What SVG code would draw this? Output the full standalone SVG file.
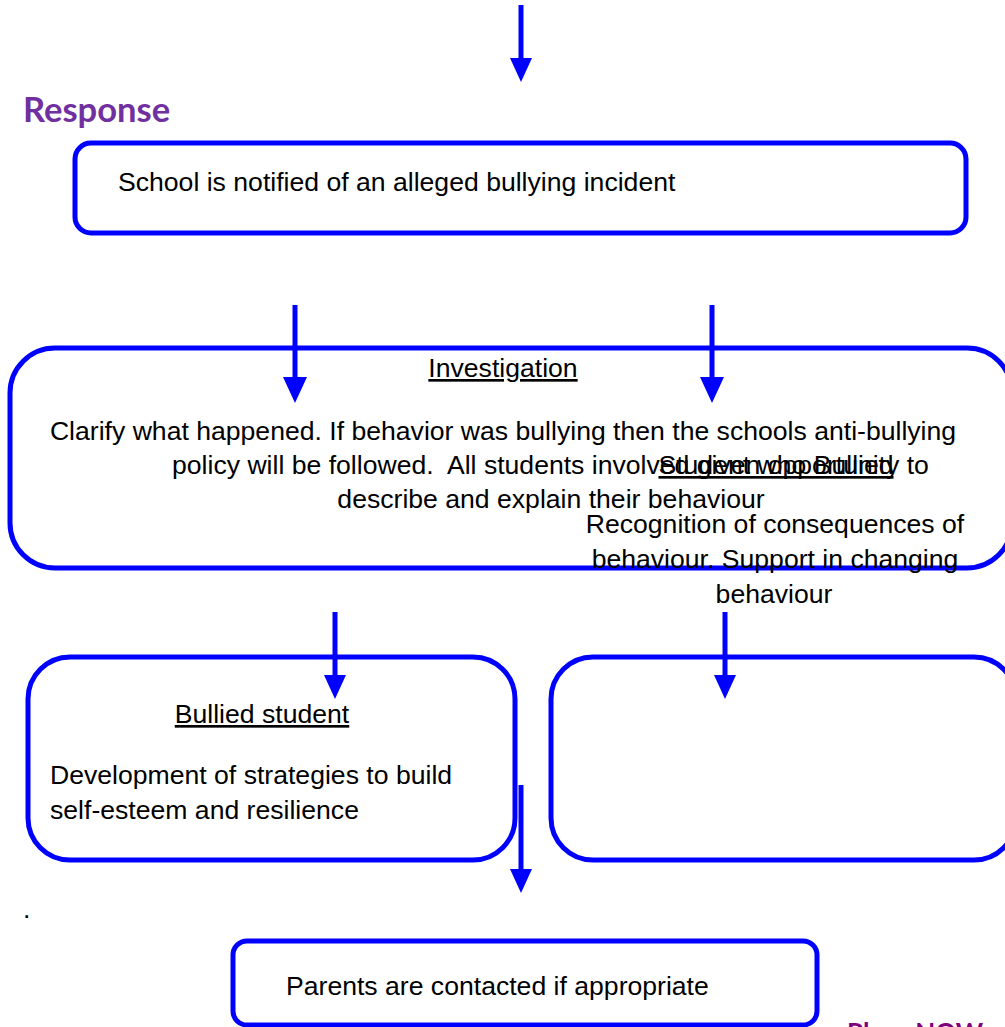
<svg xmlns="http://www.w3.org/2000/svg" width="1005" height="1027" viewBox="0 0 1005 1027">
<style>
.box{fill:#fff;stroke:#0000FF;stroke-width:5}
.t{font-family:"Liberation Sans",Arial,sans-serif;font-size:26.6px;fill:#000;white-space:pre}
.u{text-decoration:underline}
.c{stroke:#0000FF;stroke-width:5;fill:none}
.h{fill:#0000FF}
</style>
<rect width="1005" height="1027" fill="#fff"/>
<text x="23" y="122" font-family="Lato,'Open Sans',sans-serif" font-weight="bold" font-size="34.5" fill="#7030A0">Response</text>
<g id="n1">
<rect class="box" x="75" y="143" width="891" height="90" rx="16"/>
<text class="t" x="118" y="191">School is notified of an alleged bullying incident</text>
</g>
<g id="n2">
<rect class="box" x="10" y="348" width="1002" height="220" rx="45"/>
<text class="t u" x="503" y="377" text-anchor="middle">Investigation</text>
<text class="t" x="503" y="440" text-anchor="middle">Clarify what happened. If behavior was bullying then the schools anti-bullying</text>
<text class="t" x="172" y="474" xml:space="preserve">policy will be followed.  All students involved given opportunity to</text>
<text class="t" x="551" y="508" text-anchor="middle">describe and explain their behaviour</text>
</g>
<g id="n3">
<text class="t u" x="776" y="474" text-anchor="middle">Student who Bullied</text>
<text class="t" x="775" y="533" text-anchor="middle">Recognition of consequences of</text>
<text class="t" x="775" y="568" text-anchor="middle">behaviour. Support in changing</text>
<text class="t" x="774" y="603" text-anchor="middle">behaviour</text>
</g>
<g id="n4">
<rect class="box" x="28" y="657" width="487" height="203" rx="42"/>
<text class="t u" x="262" y="723" text-anchor="middle">Bullied student</text>
<text class="t" x="50" y="784">Development of strategies to build</text>
<text class="t" x="50" y="819">self-esteem and resilience</text>
</g>
<g id="n5">
<rect class="box" x="551" y="657" width="465" height="203" rx="42"/>
</g>
<text class="t" x="23" y="918">.</text>
<g id="n6">
<rect class="box" x="233" y="941" width="584" height="84" rx="14"/>
<text class="t" x="286" y="995">Parents are contacted if appropriate</text>
</g>
<text x="847" y="1042" font-family="Lato,'Open Sans',sans-serif" font-weight="bold" font-size="26" fill="#7F007F">Place NOW</text>
<g id="connectors">
<line class="c" x1="521" y1="5" x2="521" y2="60"/><polygon class="h" points="510,58 532,58 521,82"/>
<line class="c" x1="295" y1="305" x2="295" y2="380"/><polygon class="h" points="283,377 307,377 295,403"/>
<line class="c" x1="712" y1="305" x2="712" y2="380"/><polygon class="h" points="700,377 724,377 712,403"/>
<line class="c" x1="335" y1="612" x2="335" y2="678"/><polygon class="h" points="324,675 346,675 335,699"/>
<line class="c" x1="725" y1="612" x2="725" y2="678"/><polygon class="h" points="714,675 736,675 725,699"/>
<line class="c" x1="521" y1="785" x2="521" y2="872"/><polygon class="h" points="510,869 532,869 521,893"/>
</g>
</svg>
